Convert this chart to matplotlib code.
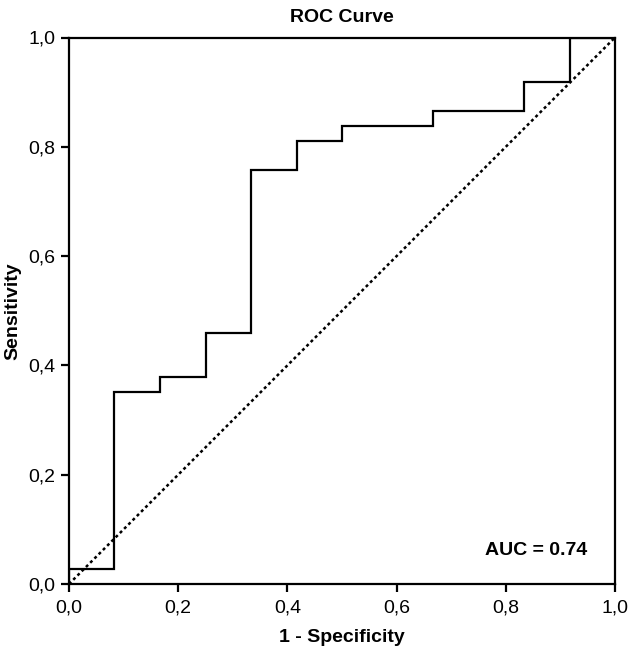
import matplotlib
matplotlib.use('Agg')
import matplotlib.pyplot as plt
from matplotlib.ticker import FixedLocator, FuncFormatter

# ROC curve steps
fpr = [0.0, 0.0, 0.083, 0.083, 0.167, 0.167, 0.25, 0.25, 0.333, 0.333, 0.417, 0.417,
       0.5, 0.5, 0.667, 0.667, 0.833, 0.833, 0.917, 0.917, 1.0]
tpr = [0.0, 0.027, 0.027, 0.351, 0.351, 0.378, 0.378, 0.459, 0.459, 0.757, 0.757, 0.811,
       0.811, 0.838, 0.838, 0.865, 0.865, 0.919, 0.919, 1.0, 1.0]
ticks = [0.0, 0.2, 0.4, 0.6, 0.8, 1.0]
auc_label = 'AUC = 0.74'

plt.rcParams['font.family'] = ['Liberation Sans', 'DejaVu Sans']

fig = plt.figure(figsize=(6.3, 6.51), dpi=100)
ax = fig.add_axes([69 / 630, 67 / 651, 546 / 630, 546.5 / 651])

ax.plot([0, 1], [0, 1], ls=(0, (1.2, 1.2)), lw=1.8, c='black')
ax.plot(fpr, tpr, lw=1.6, c='black', solid_joinstyle='miter')

ax.set_xlim(0, 1)
ax.set_ylim(0, 1)
for s in ax.spines.values():
    s.set_linewidth(1.6)
ax.xaxis.set_major_locator(FixedLocator(ticks))
ax.yaxis.set_major_locator(FixedLocator(ticks))
fmt = FuncFormatter(lambda v, p: '{:.1f}'.format(v).replace('.', ','))
ax.xaxis.set_major_formatter(fmt)
ax.yaxis.set_major_formatter(fmt)
ax.tick_params(direction='out', length=6, width=1.6, labelsize=14, pad=4)
ax.tick_params(axis='x', pad=5)

ax.set_title('ROC Curve', fontsize=14, fontweight='bold', pad=11)
ax.set_xlabel('1 - Specificity', fontsize=14, fontweight='bold', labelpad=9)
ax.set_ylabel('Sensitivity', fontsize=14, fontweight='bold', labelpad=5)
ax.text(0.855, 0.062, auc_label, fontsize=14, fontweight='bold', ha='center', va='center')

plt.savefig('out.png', dpi=100)
